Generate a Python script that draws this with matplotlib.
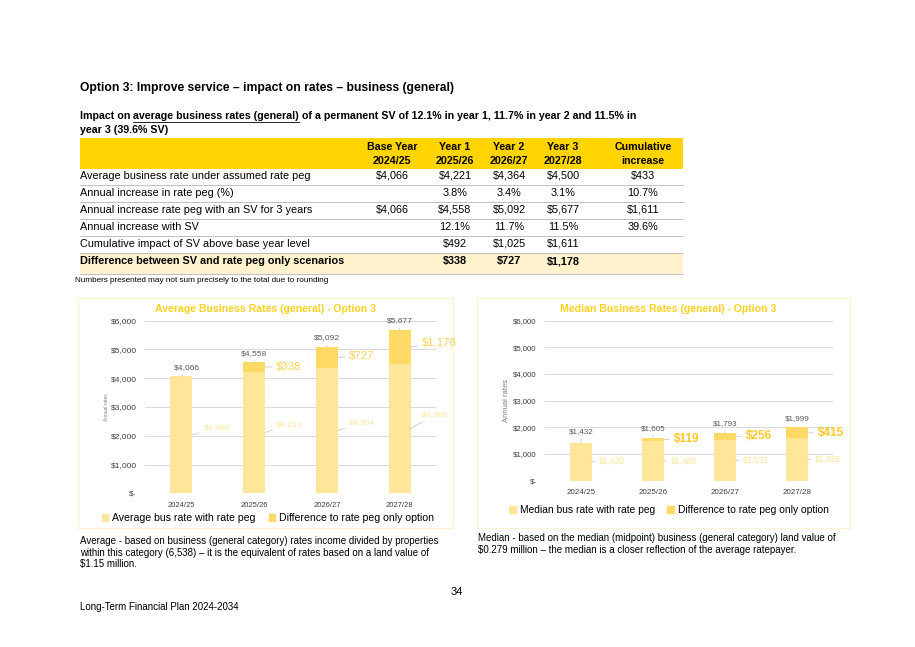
import matplotlib
matplotlib.use("Agg")
from matplotlib import pyplot as plt
from matplotlib.patches import Rectangle, Patch

plt.rcParams["font.family"] = ["Liberation Sans", "DejaVu Sans"]

W, H = 915, 647

# chart data
years = ["2024/25", "2025/26", "2026/27", "2027/28"]

avg_base = [4066, 4221, 4364, 4500]
avg_diff = [0, 338, 727, 1178]
avg_total = [4066, 4558, 5092, 5677]

med_base = [1432, 1486, 1537, 1585]
med_diff = [0, 119, 256, 415]
med_total = [1432, 1605, 1793, 1999]

# table data
table_header = [("Base Year", "2024/25"), ("Year 1", "2025/26"), ("Year 2", "2026/27"),
                ("Year 3", "2027/28"), ("Cumulative", "increase")]
row_labels = [
    "Average business rate under assumed rate peg",
    "Annual increase in rate peg (%)",
    "Annual increase rate peg with an SV for 3 years",
    "Annual increase with SV",
    "Cumulative impact of SV above base year level",
]
row_values = [
    ["$4,066", "$4,221", "$4,364", "$4,500", "$433"],
    ["", "3.8%", "3.4%", "3.1%", "10.7%"],
    ["$4,066", "$4,558", "$5,092", "$5,677", "$1,611"],
    ["", "12.1%", "11.7%", "11.5%", "39.6%"],
    ["", "$492", "$1,025", "$1,611", ""],
]
total_label = "Difference between SV and rate peg only scenarios"
total_values = ["", "$338", "$727", "$1,178", ""]

BASE_C = "#FFE699"
DIFF_C = "#FFD966"
TITLE_C = "#FFD21F"
GRID_C = "#D9D9D9"


def main():
    fig = plt.figure(figsize=(W / 100, H / 100), dpi=100)
    bg = fig.add_axes([0, 0, 1, 1])
    bg.set_xlim(0, W)
    bg.set_ylim(H, 0)
    bg.axis("off")

    draw_page_text(fig, bg)
    draw_table(bg)

    # chart frames
    bg.add_patch(Rectangle((78, 298), 375, 230, fill=False, ec="#FFF2CC", lw=0.8))
    bg.add_patch(Rectangle((477, 298), 373, 230, fill=False, ec="#FFF2CC", lw=0.8))

    ax1 = fig.add_axes([145 / W, 1 - 493.3 / H, (436 - 145) / W, (493.3 - 320.7) / H])
    plot_average(ax1)
    ax2 = fig.add_axes([545 / W, 1 - 480.7 / H, (833 - 545) / W, (480.7 - 320.7) / H])
    plot_median(ax2)

    bg.text(265, 309, "Average Business Rates (general) - Option 3", ha="center", va="center",
            fontsize=7.6, fontweight="bold", color=TITLE_C)
    bg.text(668, 309, "Median Business Rates (general) - Option 3", ha="center", va="center",
            fontsize=7.6, fontweight="bold", color=TITLE_C)
    bg.text(107, 407, "Annual rates", rotation=90, ha="center", va="center", fontsize=3.5, color="#7F7F7F")
    bg.text(506, 400, "Annual rates", rotation=90, ha="center", va="center", fontsize=5.5, color="#7F7F7F")

    fig.legend(handles=[Patch(color=BASE_C, label="Average bus rate with rate peg"),
                        Patch(color=DIFF_C, label="Difference to rate peg only option")],
               loc="center", bbox_to_anchor=(268 / W, 1 - 518 / H), ncol=2, frameon=False,
               fontsize=7.6, handlelength=0.6, handleheight=0.6, handletextpad=0.4, columnspacing=1.2)
    fig.legend(handles=[Patch(color=BASE_C, label="Median bus rate with rate peg"),
                        Patch(color=DIFF_C, label="Difference to rate peg only option")],
               loc="center", bbox_to_anchor=(669 / W, 1 - 510 / H), ncol=2, frameon=False,
               fontsize=7.4, handlelength=0.6, handleheight=0.6, handletextpad=0.4, columnspacing=1.2)

    fig.savefig("out.png", dpi=100)


def draw_page_text(fig, bg):
    bg.text(80, 88, "Option 3: Improve service \u2013 impact on rates \u2013 business (general)",
            fontsize=8.7, fontweight="bold", va="center")

    # subheading with underlined part
    renderer = fig.canvas.get_renderer()
    parts = ["Impact on ", "average business rates (general)",
             " of a permanent SV of 12.1% in year 1, 11.7% in year 2 and 11.5% in"]
    x = 80
    inv = bg.transData.inverted()
    for k, s in enumerate(parts):
        t = bg.text(x, 116, s, fontsize=7.7, fontweight="bold", va="center")
        bb = t.get_window_extent(renderer=renderer)
        (x0, _), (x1, _) = inv.transform([(bb.x0, bb.y0), (bb.x1, bb.y1)])
        if k == 1:
            bg.plot([x0, x1], [121.5, 121.5], color="black", lw=0.6)
        x = x1
    bg.text(80, 130, "year 3 (39.6% SV)", fontsize=7.7, fontweight="bold", va="center")

    bg.text(75, 281, "Numbers presented may not sum precisely to the total due to rounding",
            fontsize=5.9, va="center")

    bg.text(80, 536, "Average - based on business (general category) rates income divided by properties\n"
                     "within this category (6,538) \u2013 it is the equivalent of rates based on a land value of\n"
                     "$1.15 million.", fontsize=7, va="top", ha="left", linespacing=1.2)
    bg.text(478, 533, "Median - based on the median (midpoint) business (general category) land value of\n"
                      "$0.279 million \u2013 the median is a closer reflection of the average ratepayer.",
            fontsize=7, va="top", ha="left", linespacing=1.2)
    bg.text(457, 592, "34", fontsize=8, ha="center", va="center")
    bg.text(80, 607, "Long-Term Financial Plan 2024-2034", fontsize=7, va="center")


def draw_table(bg):
    x0, x1 = 80, 683
    col_x = [392, 455, 509, 563, 643]
    bg.add_patch(Rectangle((x0, 138), x1 - x0, 31, color="#FFD400", lw=0))
    for cx, (l1, l2) in zip(col_x, table_header):
        bg.text(cx, 147, l1, ha="center", va="center", fontsize=7.7, fontweight="bold")
        bg.text(cx, 161, l2, ha="center", va="center", fontsize=7.7, fontweight="bold")

    row_y = [176, 193, 210, 227, 244]
    for y, label, vals in zip(row_y, row_labels, row_values):
        bg.text(x0, y, label, va="center", fontsize=7.8)
        for cx, v in zip(col_x, vals):
            bg.text(cx, y, v, ha="center", va="center", fontsize=7.8)
        bg.plot([x0, x1], [y + 8.5, y + 8.5], color="#A6A6A6", lw=0.5)

    bg.add_patch(Rectangle((x0, 253), x1 - x0, 21, color="#FFF2CC", lw=0))
    bg.text(x0, 261, total_label, va="center", fontsize=7.8, fontweight="bold")
    for cx, v in zip(col_x, total_values):
        bg.text(cx, 261, v, ha="center", va="center", fontsize=7.8, fontweight="bold")
    bg.plot([x0, x1], [274, 274], color="#A6A6A6", lw=0.5)


def style_axes(ax, ysize, xsize):
    ax.set_ylim(0, 6000)
    ax.set_xlim(-0.5, 3.5)
    ax.set_facecolor("none")
    ax.set_yticks(range(0, 6001, 1000))
    ax.set_yticklabels(["$-"] + [f"${v:,}" for v in range(1000, 6001, 1000)])
    ax.grid(axis="y", color=GRID_C, lw=0.7)
    ax.set_axisbelow(True)
    for s in ax.spines.values():
        s.set_visible(False)
    ax.tick_params(length=0, labelcolor="#404040", pad=6)
    ax.tick_params(axis="y", labelsize=ysize)
    ax.tick_params(axis="x", labelsize=xsize)
    ax.set_xticks(range(len(years)))
    ax.set_xticklabels(years)


def plot_average(ax):
    style_axes(ax, 6.0, 5.5)
    x = range(len(years))
    ax.bar(x, avg_base, width=0.3, color=BASE_C)
    ax.bar(x, avg_diff, bottom=avg_base, width=0.3, color=DIFF_C)
    line = dict(arrowstyle="-", color="#BFBFBF", lw=0.5, shrinkA=1, shrinkB=0)
    top_dx = [4, 0, 0, 0]
    base_dy = [5, 6, 6, 10]
    diff_dy = [0, 0, 1, 3]
    for i in x:
        ax.annotate(f"${avg_total[i]:,}", xy=(i, avg_base[i] + avg_diff[i]), xytext=(top_dx[i], 6.5),
                    textcoords="offset points", ha="center", va="center", fontsize=6.1,
                    color="#595959", arrowprops=line)
        ax.annotate(f"${avg_base[i]:,}", xy=(i + 0.15, avg_base[i] / 2), xytext=(8, base_dy[i]),
                    textcoords="offset points", ha="left", va="center", fontsize=6.1,
                    color=BASE_C, arrowprops=line)
        if avg_diff[i]:
            ax.annotate(f"${avg_diff[i]:,}", xy=(i + 0.15, avg_base[i] + avg_diff[i] / 2),
                        xytext=(8, diff_dy[i]), textcoords="offset points", ha="left", va="center",
                        fontsize=8.2, color="#FFD34E", arrowprops=line)


def plot_median(ax):
    style_axes(ax, 5.6, 5.8)
    x = range(len(years))
    ax.bar(x, med_base, width=0.3, color=BASE_C)
    ax.bar(x, med_diff, bottom=med_base, width=0.3, color=DIFF_C)
    line = dict(arrowstyle="-", color="#BFBFBF", lw=0.5, shrinkA=1, shrinkB=0)
    top_dy = [8, 7, 7, 6]
    for i in x:
        ax.annotate(f"${med_total[i]:,}", xy=(i, med_base[i] + med_diff[i]), xytext=(0, top_dy[i]),
                    textcoords="offset points", ha="center", va="center", fontsize=5.8,
                    color="#595959", arrowprops=line)
        ax.annotate(f"${med_base[i]:,}", xy=(i + 0.15, med_base[i] / 2), xytext=(5, 0),
                    textcoords="offset points", ha="left", va="center", fontsize=6.2,
                    color=BASE_C, arrowprops=line)
        if med_diff[i]:
            ax.annotate(f"${med_diff[i]:,}", xy=(i + 0.15, med_base[i] + med_diff[i] / 2),
                        xytext=(7, 0), textcoords="offset points", ha="left", va="center",
                        fontsize=8.5, fontweight="bold", color="#FFC926", arrowprops=line)


if __name__ == '__main__':
    main()
